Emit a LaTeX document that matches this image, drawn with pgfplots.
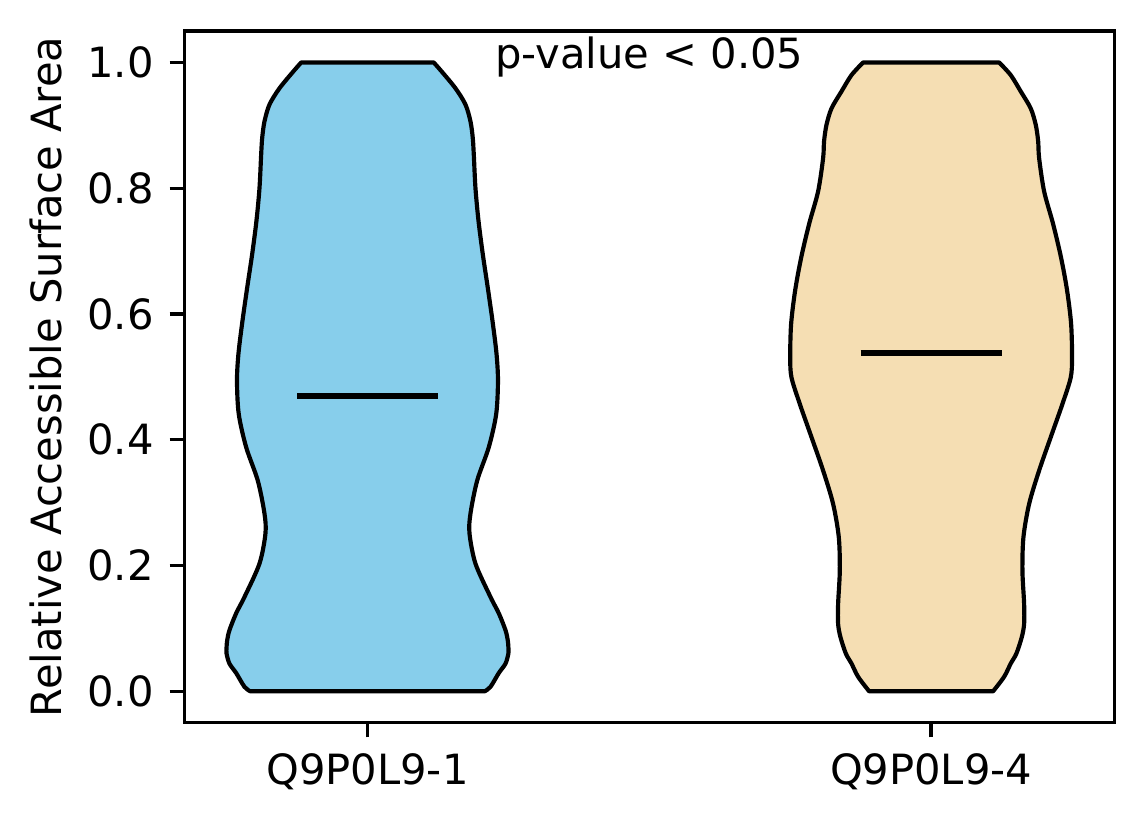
\documentclass[border=0pt]{standalone}
\usepackage{fontspec}
\setmainfont{DejaVu Sans}
\usepackage{pgfplots}
\pgfplotsset{compat=1.18}
\usepackage{pgfplotstable}
\usepgfplotslibrary{fillbetween}
\definecolor{skyblue}{HTML}{87CEEB}
\definecolor{wheat}{HTML}{F5DEB3}

% half-widths of the violins (data units) at heights y
\pgfplotstableread{
y w
0.000 0.2081
0.007 0.2182
0.029 0.2330
0.044 0.2449
0.060 0.2500
0.070 0.2500
0.081 0.2489
0.097 0.2449
0.124 0.2330
0.150 0.2182
0.203 0.1916
0.251 0.1810
0.283 0.1828
0.335 0.1946
0.388 0.2152
0.441 0.2284
0.494 0.2315
0.537 0.2289
0.589 0.2218
0.642 0.2134
0.695 0.2046
0.748 0.1970
0.800 0.1916
0.854 0.1886
0.880 0.1868
0.906 0.1828
0.933 0.1739
0.959 0.1561
0.986 0.1313
1.000 0.1176
}\vA

\pgfplotstableread{
y w
0.000 0.1100
0.023 0.1295
0.044 0.1412
0.060 0.1513
0.086 0.1608
0.107 0.1650
0.139 0.1650
0.192 0.1620
0.245 0.1638
0.298 0.1739
0.351 0.1916
0.404 0.2122
0.457 0.2330
0.499 0.2477
0.531 0.2500
0.584 0.2484
0.637 0.2413
0.689 0.2307
0.743 0.2165
0.795 0.2005
0.848 0.1916
0.875 0.1899
0.901 0.1856
0.927 0.1767
0.954 0.1590
0.980 0.1412
1.000 0.1207
}\vB

\begin{document}
\begin{tikzpicture}
\path (0,0) rectangle (274.56bp,197.76bp);
\begin{axis}[
  at={(44.23bp,24.31bp)}, anchor=south west,
  scale only axis,
  width=223.2bp, height=166.0bp,
  xmin=0.675, xmax=2.325,
  ymin=-0.05, ymax=1.05,
  xtick={1,2}, xticklabels={Q9P0L9-1,Q9P0L9-4},
  ytick={0,0.2,0.4,0.6,0.8,1.0},
  yticklabel style={/pgf/number format/.cd, fixed, fixed zerofill, precision=1, /tikz/.cd},
  /pgf/number format/assume math mode=true,
  xtick pos=bottom, ytick pos=left,
  tick align=outside,
  major tick length=3.5bp,
  every tick/.style={black, line width=0.8bp},
  axis line style={line width=0.8bp},
  tick label style={font=\fontsize{10bp}{12bp}\selectfont},
  xticklabel style={anchor=base, yshift=-11.21bp},
  yticklabel style={anchor=east, inner sep=0pt, xshift=-3.65bp},
  ylabel={Relative Accessible Surface Area},
  ylabel style={font=\fontsize{10bp}{12bp}\selectfont, at={(axis description cs:-0.1318,0.5)}, anchor=base},
  clip=false,
]
\addplot[draw=none, smooth, name path=L1] table[x expr={1-\thisrow{w}}, y=y] {\vA};
\addplot[draw=none, smooth, name path=R1] table[x expr={1+\thisrow{w}}, y=y] {\vA};
\addplot[fill=skyblue, draw=black, line width=1bp, line join=round] fill between[of=L1 and R1, reverse=true];

\addplot[draw=none, smooth, name path=L2] table[x expr={2-\thisrow{w}}, y=y] {\vB};
\addplot[draw=none, smooth, name path=R2] table[x expr={2+\thisrow{w}}, y=y] {\vB};
\addplot[fill=wheat, draw=black, line width=1bp, line join=round] fill between[of=L2 and R2, reverse=true];

\addplot[black, line width=1.5bp] coordinates {(0.875,0.470) (1.125,0.470)};
\addplot[black, line width=1.5bp] coordinates {(1.875,0.5385) (2.125,0.5385)};

\node[anchor=base, font=\fontsize{10bp}{12bp}\selectfont] at (axis cs:1.5,0.9908) {p-value < 0.05};
\end{axis}
\end{tikzpicture}
\end{document}
